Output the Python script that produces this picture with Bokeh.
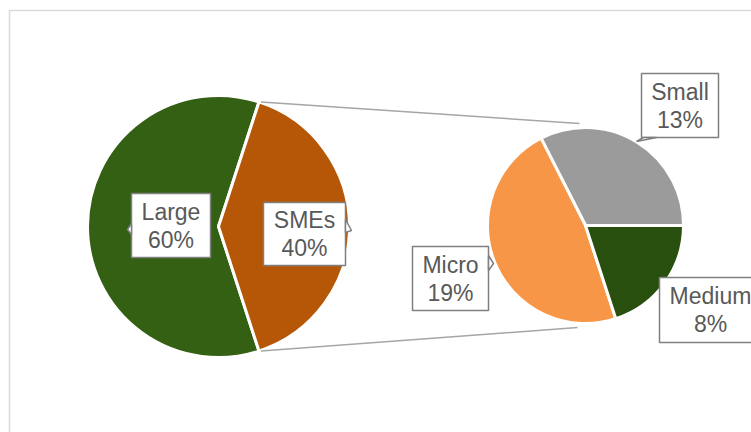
import math
from bokeh.plotting import figure
from bokeh.models import Range1d
from bokeh.core.properties import value
from bokeh.embed import file_html
from bokeh.resources import INLINE

# ---- data ----
main_labels = ["Large", "SMEs"]
main_values = [60, 40]
sub_labels = ["Small", "Micro", "Medium"]
sub_values = [13, 19, 8]

main_colors = ["#346014", "#B65708"]
sub_colors = ["#9B9B9B", "#F79646", "#294F0E"]

W, H = 751, 432
def Y(py):
    return H - py

p = figure(width=W, height=H, x_range=Range1d(0, W), y_range=Range1d(0, H),
           output_backend="svg", toolbar_location=None, min_border=0)
p.axis.visible = False
p.grid.visible = False
p.outline_line_color = None
p.background_fill_color = "white"
p.border_fill_color = "white"

# chart frame
p.line([9, 9, W + 5], [Y(H + 5), Y(10), Y(10)], line_color="#D9D9D9", line_width=1.5)

total = sum(main_values)
# left pie
cx1, cy1, r1 = 218, Y(226), 131
other_frac = main_values[1] / total
half = other_frac * math.pi
starts = [half, -half]
ends = [2 * math.pi - half, half]
p.wedge(x=[cx1] * 2, y=[cy1] * 2, radius=r1, start_angle=starts, end_angle=ends,
        fill_color=main_colors, line_color="white", line_width=3)

# right pie
cx2, cy2, r2 = 585, Y(225), 98
sub_total = sum(sub_values)
a = 0.0
s2, e2 = [], []
for v in sub_values:
    s2.append(a)
    a += v / sub_total * 2 * math.pi
    e2.append(a)
p.wedge(x=[cx2] * 3, y=[cy2] * 3, radius=r2, start_angle=s2, end_angle=e2,
        fill_color=sub_colors, line_color="white", line_width=3)

# connector lines
ux, uy = cx1 + r1 * math.cos(half), cy1 + r1 * math.sin(half)
lx, ly = cx1 + r1 * math.cos(-half), cy1 + r1 * math.sin(-half)
p.line([ux + 2, cx2 - 6], [uy, cy2 + r2 + 4], line_color="#A6A6A6", line_width=1.5)
p.line([lx + 2, cx2 - 8], [ly, cy2 - r2 - 4], line_color="#A6A6A6", line_width=1.5)

# label boxes (pixel layout): x0, x1, y0, y1
boxes = {
    "Large": (131, 210, 193, 257),
    "SMEs": (263, 345, 202, 265),
    "Small": (641, 718, 73, 137),
    "Micro": (412, 488, 246, 310),
    "Medium": (659, 770, 277, 342),
}
pointers = {
    "Large": [(131, 223), (127, 229), (131, 234)],
    "SMEs": [(345, 219), (351, 230), (345, 232)],
    "Small": [(643, 137), (636, 141), (656, 137)],
    "Micro": [(488, 255), (493, 263), (488, 270)],
    "Medium": None,
}
all_labels = main_labels + sub_labels
all_values = main_values + sub_values
xs, ys = [], []
for name in all_labels:
    x0, x1, y0, y1 = boxes[name]
    xs.append([x0, x1, x1, x0])
    ys.append([Y(y0), Y(y0), Y(y1), Y(y1)])
p.patches(xs, ys, fill_color="white", line_color="#7F7F7F", line_width=1.5)
for name in all_labels:
    pt = pointers[name]
    if pt:
        p.patch([q[0] for q in pt], [Y(q[1]) for q in pt], fill_color="white",
                line_color="#7F7F7F", line_width=1.5)

tx, ty1, ty2, t1, t2 = [], [], [], [], []
for name, v in zip(all_labels, all_values):
    x0, x1, y0, y1 = boxes[name]
    if name == "Medium":
        cxm = 710
    else:
        cxm = (x0 + x1) / 2
    cym = (y0 + y1) / 2
    tx.append(cxm)
    ty1.append(Y(cym - 14))
    ty2.append(Y(cym + 14))
    t1.append(name)
    t2.append(f"{round(v / total * 100)}%")

for yy, tt in ((ty1, t1), (ty2, t2)):
    p.text(x=tx, y=yy, text=tt, text_font=value("Liberation Sans"),
           text_font_size="23px", text_color="#595959",
           text_align="center", text_baseline="middle")

open("out.html", "w").write(file_html(p, INLINE))
